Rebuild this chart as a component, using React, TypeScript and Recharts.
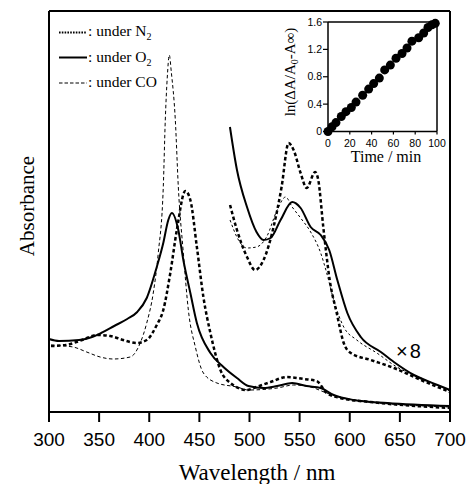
import React from 'react';
import { LineChart, Line, XAxis, YAxis, ReferenceLine, ScatterChart, Scatter } from 'recharts';

// ---- main spectra (wavelength / nm, absorbance in arbitrary units) ----
const o2Wl = [300, 310, 330, 343, 352, 365, 378, 388, 397.5, 407.5, 414, 419, 422.5, 429, 434, 441, 447.5, 461, 474, 487.5, 499, 514, 527.6, 542.6, 557, 571, 584, 604, 637.5, 700];
const o2Abs = [73, 71, 72, 75, 79, 86, 93, 100, 114, 145, 169, 192, 199, 182, 152, 119, 89, 59, 45, 34, 26, 24, 26, 29, 26, 24, 17, 12, 9, 6];

const n2Wl = [302, 317, 333, 347.6, 361, 374, 387.5, 397.5, 407.5, 414, 421, 427.5, 436, 441, 447.5, 454, 461, 471, 481, 497.5, 504, 521, 537.6, 554, 567, 577, 590.5, 620.6, 700];
const n2Abs = [66, 67, 72, 77, 76, 72, 69, 72, 87, 102, 139, 182, 221, 212, 165, 115, 79, 42, 29, 22, 24, 30, 35, 33, 31, 19, 14, 10, 4];

const coWl = [302, 324, 337.6, 351, 364, 381, 391, 397.5, 404, 409, 414, 416, 418, 420, 422, 426, 429, 434, 439, 446, 454, 467.5, 487.5, 499, 527.6, 544, 561, 577, 604, 700];
const coAbs = [67, 65, 60, 55, 53, 55, 69, 89, 119, 159, 225, 292, 335, 357, 340, 292, 225, 159, 102, 65, 39, 29, 25, 22, 24, 27, 25, 19, 12, 5];

// ---- x8 magnified Q-band region ----
const o2x8Wl = [480.5, 487.5, 497.5, 507, 514, 521, 531, 542.6, 551, 561, 571, 579.5, 587.6, 597.6, 611, 631, 644, 664, 687.5, 700];
const o2x8Abs = [285, 242, 205, 180, 172, 174, 192, 210, 204, 185, 177, 162, 132, 99, 75, 60, 50, 37, 27, 22];

const n2x8Wl = [480.6, 487.5, 497.5, 505.6, 514, 524, 532, 539, 544, 551, 557, 565.5, 568.6, 573.6, 580, 587, 594, 601, 621, 644, 671, 700];
const n2x8Abs = [207, 182, 155, 142, 152, 185, 225, 269, 262, 239, 224, 240, 232, 185, 132, 99, 69, 59, 52, 44, 32, 20];

const cox8Wl = [480.6, 489, 497.5, 507, 517, 527.6, 536, 542.6, 551, 561, 571, 577, 584, 594, 607, 627, 647, 671, 700];
const cox8Abs = [192, 172, 164, 165, 175, 202, 215, 205, 194, 180, 159, 139, 112, 85, 72, 59, 45, 34, 21];

const wlTicks = [300, 350, 400, 450, 500, 550, 600, 650, 700];

// ---- inset kinetics ----
const timeMin = [0, 3.7, 7.3, 12.2, 16.5, 21.4, 25.7, 31.8, 37.3, 41.9, 47.1, 52, 57.2, 62.4, 67.9, 72.5, 77, 83.2, 87.8, 91.7, 95.4, 98.4];
const lnVals = [0, 0.07, 0.13, 0.22, 0.29, 0.35, 0.43, 0.53, 0.62, 0.7, 0.78, 0.9, 0.97, 1.07, 1.14, 1.22, 1.32, 1.37, 1.44, 1.52, 1.56, 1.58];
const timeTicks = [0, 20, 40, 60, 80, 100];
const lnTicks = [0, 0.4, 0.8, 1.2, 1.6];

const zip = (xs: number[], ys: number[]) => xs.map((x, i) => ({ x, y: ys[i] }));

const SERIF = '"Liberation Serif", "Times New Roman", serif';
const SANS = '"Liberation Sans", Arial, sans-serif';

const series = [
  { key: 'o2', data: zip(o2Wl, o2Abs), w: 2, dash: undefined },
  { key: 'n2', data: zip(n2Wl, n2Abs), w: 2.5, dash: '3.5 2.5' },
  { key: 'co', data: zip(coWl, coAbs), w: 1, dash: '3.5 2.5' },
  { key: 'o2x8', data: zip(o2x8Wl, o2x8Abs), w: 2, dash: undefined },
  { key: 'n2x8', data: zip(n2x8Wl, n2x8Abs), w: 2.5, dash: '3.5 2.5' },
  { key: 'cox8', data: zip(cox8Wl, cox8Abs), w: 1, dash: '2.5 2.5' },
];

const insetData = zip(timeMin, lnVals);

const Dot = (p: any) => <circle cx={p.cx} cy={p.cy} r={4.5} fill="#000" />;

export default function App() {
  return (
    <div style={{ position: 'absolute', left: 0, top: 0, width: 470, height: 484, background: '#fff' }}>
      <div style={{ position: 'absolute', left: 0, top: 0 }}>
        <LineChart width={470} height={484} margin={{ top: 11, right: 20, bottom: 42, left: 49 }}>
          <XAxis
            type="number"
            dataKey="x"
            domain={[300, 700]}
            ticks={wlTicks}
            allowDuplicatedCategory={false}
            height={30}
            tickSize={10}
            tickMargin={11}
            axisLine={{ stroke: '#000', strokeWidth: 2 }}
            tickLine={{ stroke: '#000', strokeWidth: 2 }}
            tick={{ fill: '#000', fontSize: 19, fontFamily: SANS }}
          />
          <YAxis type="number" domain={[0, 401]} hide />
          <ReferenceLine x={300} stroke="#000" strokeWidth={2} />
          <ReferenceLine x={700} stroke="#000" strokeWidth={2} />
          <ReferenceLine y={401} stroke="#000" strokeWidth={2} />
          {series.map((s) => (
            <Line
              key={s.key}
              data={s.data}
              dataKey="y"
              type="monotone"
              stroke="#000"
              strokeWidth={s.w}
              strokeDasharray={s.dash}
              dot={false}
              activeDot={false}
              isAnimationActive={false}
            />
          ))}
        </LineChart>
      </div>
      <div style={{ position: 'absolute', left: 0, top: 0 }}>
        <ScatterChart width={470} height={484} margin={{ top: 22, right: 33, bottom: 332.5, left: 298 }}>
          <XAxis
            type="number"
            dataKey="x"
            domain={[0, 100]}
            ticks={timeTicks}
            height={20}
            tickSize={3}
            tickMargin={5}
            interval={0}
            axisLine={{ stroke: '#000', strokeWidth: 1.5 }}
            tickLine={{ stroke: '#000', strokeWidth: 1.2 }}
            tick={{ fill: '#000', fontSize: 10.5, fontFamily: SANS }}
          />
          <YAxis
            type="number"
            dataKey="y"
            domain={[0, 1.6]}
            ticks={lnTicks}
            width={30}
            tickSize={5}
            tickMargin={1}
            interval={0}
            axisLine={{ stroke: '#000', strokeWidth: 1.5 }}
            tickLine={{ stroke: '#000', strokeWidth: 1.2 }}
            tick={{ fill: '#000', fontSize: 10.5, fontFamily: SANS }}
            tickFormatter={(v: number) => (v === 0 ? '0' : v.toFixed(1))}
          />
          <ReferenceLine y={1.6} stroke="#000" strokeWidth={1.5} />
          <ReferenceLine x={100} stroke="#000" strokeWidth={1.5} />
          <Scatter data={insetData} shape={Dot} isAnimationActive={false} />
        </ScatterChart>
      </div>
      <svg width={470} height={484} style={{ position: 'absolute', left: 0, top: 0, pointerEvents: 'none' }}>
        {/* legend */}
        <line x1={59} y1={32.5} x2={87} y2={32.5} stroke="#000" strokeWidth={2} strokeDasharray="1.6 1.2" />
        <text x={88} y={36} fontFamily={SERIF} fontSize={15.5} fill="#000">
          : under N<tspan fontSize={10} dy={4}>2</tspan>
        </text>
        <line x1={59} y1={57.5} x2={87} y2={57.5} stroke="#000" strokeWidth={2} />
        <text x={88} y={61.5} fontFamily={SERIF} fontSize={15.5} fill="#000">
          : under O<tspan fontSize={10} dy={4}>2</tspan>
        </text>
        <line x1={59} y1={83} x2={87} y2={83} stroke="#000" strokeWidth={1} strokeDasharray="3.5 2" />
        <text x={88} y={86.5} fontFamily={SERIF} fontSize={15.5} fill="#000">
          : under CO
        </text>
        {/* x8 marker */}
        <text x={396} y={358} fontFamily={SANS} fontSize={20} fill="#000">
          ×<tspan dx={2}>8</tspan>
        </text>
        {/* axis titles */}
        <text x={257} y={480} textAnchor="middle" fontFamily={SERIF} fontSize={23} fill="#000">
          Wavelength / nm
        </text>
        <text transform="translate(34,206) rotate(-90)" textAnchor="middle" fontFamily={SERIF} fontSize={21} fill="#000">
          Absorbance
        </text>
        <text x={386} y={162} textAnchor="middle" fontFamily={SERIF} fontSize={16} fill="#000">
          Time / min
        </text>
        <text transform="translate(295,72) rotate(-90)" textAnchor="middle" fontFamily={SERIF} fontSize={15} fill="#000">
          ln(ΔA/A<tspan fontSize={10} dy={3}>0</tspan><tspan dy={-3}>-A∞)</tspan>
        </text>
      </svg>
    </div>
  );
}
